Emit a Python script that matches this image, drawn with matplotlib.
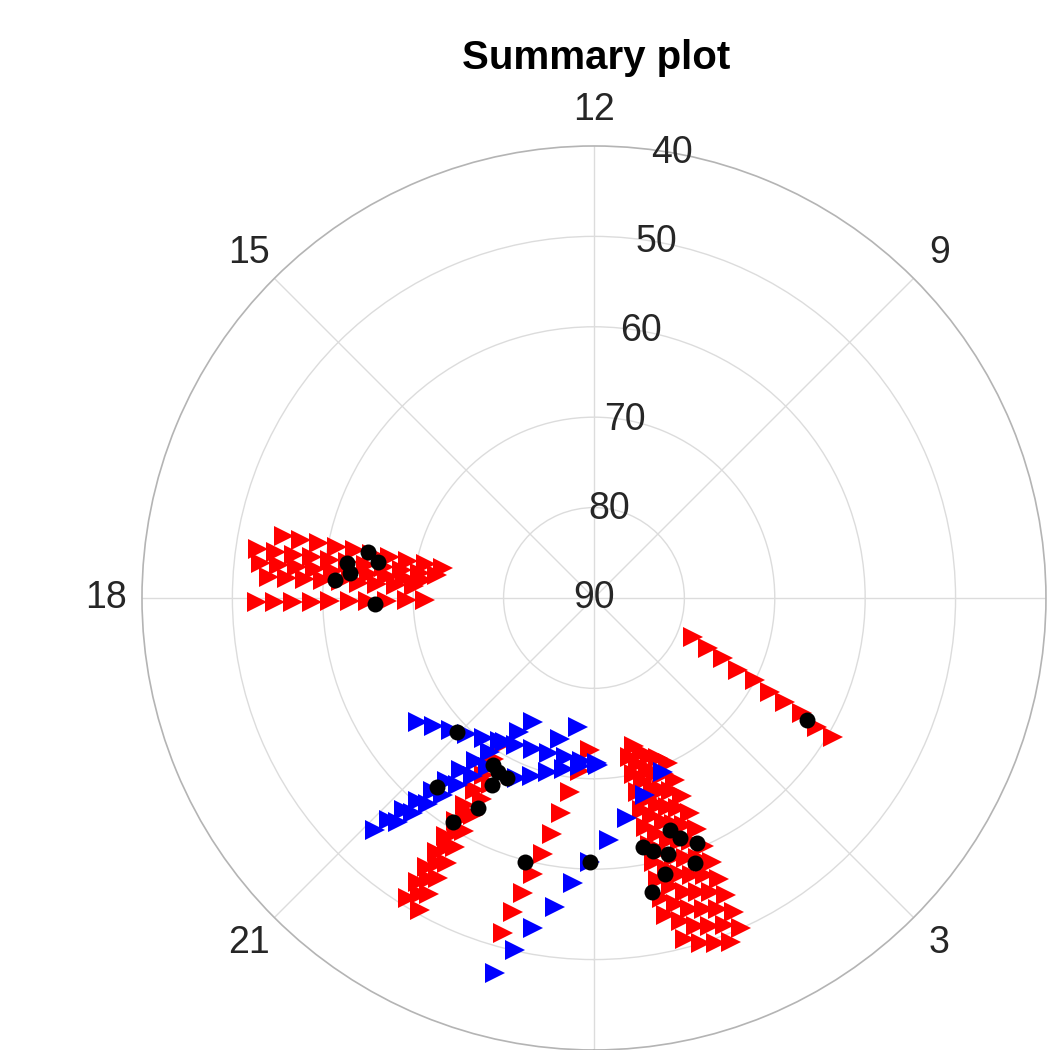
import numpy as np
import matplotlib.pyplot as plt

plt.rcParams['font.family'] = ['Liberation Sans', 'DejaVu Sans']

# red tracks west of the zenith (constant hour, elevation in degrees)
west_hours = [17.25, 17.45, 17.6, 17.75, 18.05]
west_elev = [
    [55, 57, 59, 61, 63, 65, 67, 69, 71, 73],
    [52.5, 54.5, 56.5, 58.5, 60.5, 62.5, 64.5, 66.5, 68.5, 70.5, 72.5],
    [53, 55, 57, 59, 61, 63, 65, 67, 69, 71],
    [54, 56, 58, 60, 62, 64, 66, 68, 70],
    [52.7, 54.7, 56.7, 58.8, 60.8, 63.0, 65.0, 67.1, 69.3, 71.3],
]

# red tracks to the south-west
sw_hours = [21.88, 21.97, 22.06]
sw_elev = [
    [51, 53, 55, 57, 59, 61, 63, 65, 67, 69, 71],
    [52, 54, 56, 58, 60, 62],
    [50.5, 52.5, 54.5, 56.5, 58.5, 60.5, 62.5, 64.5, 66.5],
]

# red tracks to the south-east
se_hours = [0.85, 1.0, 1.15, 1.3, 1.45, 1.6]
se_elev = [
    [72, 70, 68, 66, 64, 62, 60, 58, 56, 54],
    [73, 71, 69, 67, 65, 63, 61, 59, 57, 55, 53, 51],
    [72, 70, 68, 66, 64, 62, 60, 58, 56, 54, 52, 50],
    [71.5, 69.5, 67.5, 65.5, 63.5, 61.5, 59.5, 57.5, 55.5, 53.5, 51.5, 49.5],
    [71, 69, 67, 65, 63, 61, 59, 57, 55, 53, 51, 49],
    [70, 68, 66, 64, 62, 60, 58, 56, 54, 52, 50],
]

# red tracks with changing hour
red_s_hr = [22.99, 23.04, 23.10, 23.17, 23.25, 23.33, 23.42, 23.53, 23.69, 23.90]
red_s_el = [51.6, 54.1, 56.4, 58.7, 61.1, 63.5, 65.9, 68.4, 70.8, 73.2]
red_e_hr = [4.57, 4.42, 4.34, 4.23, 4.20, 4.13, 4.09, 4.07, 4.00, 3.99]
red_e_el = [78.2, 76.2, 74.3, 72.2, 70.0, 67.9, 65.9, 63.7, 61.5, 59.4]

# blue tracks
blue_hr = [
    [20.35, 20.58, 20.85, 21.13, 21.45, 21.78, 22.14, 22.53, 22.92, 23.33, 23.72, 0.09],
    [21.11, 21.15, 21.21, 21.27, 21.35, 21.41, 21.49, 21.61, 21.73, 21.89, 22.05, 22.25],
    [21.25, 21.33, 21.41, 21.50, 21.60, 21.72, 21.86],
    [22.45, 22.72, 23.01, 23.34, 23.68, 0.07],
    [23.53, 23.10],
    [1.44, 0.97, 0.57, 0.24, 23.94, 23.72, 23.52, 23.30, 23.16, 23.01],
]
blue_el = [
    [66.2, 67.3, 68.5, 69.4, 70.3, 71.1, 71.6, 72.0, 72.1, 72.1, 71.9, 71.5],
    [54.7, 56.6, 58.5, 60.3, 62.2, 64.0, 65.9, 67.7, 69.4, 71.3, 73.0, 74.7],
    [57.1, 58.9, 60.7, 62.5, 64.4, 66.2, 67.9],
    [68.3, 69.1, 70.1, 70.8, 71.3, 71.7],
    [75.6, 73.9],
    [69.3, 67.5, 65.4, 63.2, 60.8, 58.4, 55.5, 52.9, 50.1, 47.1],
]

# black points
dot_hr = [17.23, 17.37, 17.46, 17.61, 17.73, 18.10,
          20.96, 21.92, 22.28, 22.09, 22.07, 21.35, 22.07, 21.85, 23.02, 23.94,
          1.21, 1.31, 1.52, 0.74, 0.88, 1.07, 1.39, 0.96, 0.74,
          4.01]
dot_el = [64.5, 65.8, 62.4, 62.9, 61.3, 65.8,
          68.8, 68.4, 67.9, 66.4, 68.0, 62.8, 63.5, 60.7, 59.8, 60.8,
          63.0, 61.8, 60.6, 61.9, 61.3, 60.5, 58.6, 58.5, 56.8,
          62.8]

hour_ticks = [0, 3, 6, 9, 12, 15, 18, 21]
hour_labels = [3, 6, 9, 12, 15, 18, 21]
elev_ticks = [40, 50, 60, 70, 80, 90]


def hr2rad(h):
    return np.asarray(h, dtype=float) / 24.0 * 2 * np.pi


fig = plt.figure(figsize=(10.62, 10.50), dpi=100)
ax = fig.add_axes([0.1337, 0.0, 0.8512, 0.861], projection='polar')
ax.set_theta_zero_location('S')
ax.set_theta_direction(1)
ax.set_ylim(90, 40)

tri = dict(linestyle='none', marker='>', markersize=14, markeredgewidth=0)
red = (1, 0, 0)
blue = (0, 0, 1)

for h, el in zip(west_hours, west_elev):
    ax.plot(hr2rad([h] * len(el)), el, color=red, **tri)
for h, el in zip(sw_hours, sw_elev):
    ax.plot(hr2rad([h] * len(el)), el, color=red, **tri)
for h, el in zip(se_hours, se_elev):
    ax.plot(hr2rad([h] * len(el)), el, color=red, **tri)
ax.plot(hr2rad(red_s_hr), red_s_el, color=red, **tri)
ax.plot(hr2rad(red_e_hr), red_e_el, color=red, **tri)

for h, el in zip(blue_hr, blue_el):
    ax.plot(hr2rad(h), el, color=blue, **tri)

ax.plot(hr2rad(dot_hr), dot_el, linestyle='none', marker='o', markersize=11.5,
        markeredgewidth=0, color='k')

# grid
ax.set_xticks(hr2rad(hour_ticks))
ax.set_xticklabels([])
ax.set_yticks(elev_ticks[1:-1])
ax.set_yticklabels([])
ax.grid(True, color='#dcdcdc', linewidth=1.0)
ax.spines['polar'].set_color('#b4b4b4')
ax.spines['polar'].set_linewidth(1.2)

for h in hour_labels:
    ax.text(hr2rad(h), 36.0, str(h), ha='center', va='center',
            fontsize=27, color='#262626', clip_on=False)
for v in elev_ticks:
    ax.text(np.deg2rad(170), v, str(v), ha='center', va='center',
            fontsize=27, color='#262626')

fig.text(0.561, 1 - 58 / 1050, 'Summary plot', ha='center', va='center',
         fontsize=29, fontweight='bold')

fig.savefig('out.png', dpi=100)
